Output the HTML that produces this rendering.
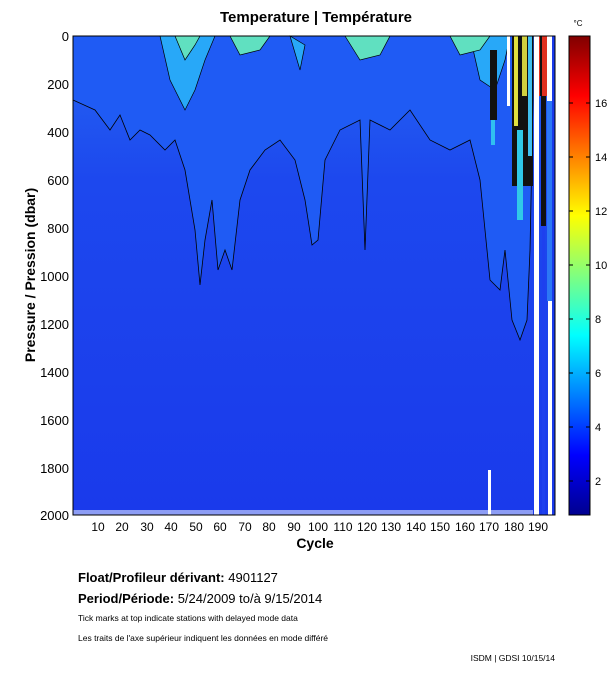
<!DOCTYPE html><html><head><meta charset="utf-8"><style>body{margin:0;background:#fff}svg{display:block}text{font-family:"Liberation Sans",sans-serif}</style></head><body>
<svg width="611" height="675" viewBox="0 0 611 675">
<defs>
<linearGradient id="jet" x1="0" y1="1" x2="0" y2="0">
<stop offset="0" stop-color="#00008f"/><stop offset="0.125" stop-color="#0000ff"/><stop offset="0.375" stop-color="#00ffff"/><stop offset="0.625" stop-color="#ffff00"/><stop offset="0.875" stop-color="#ff0000"/><stop offset="1" stop-color="#800000"/></linearGradient>
<linearGradient id="bg" x1="0" y1="0" x2="0" y2="1"><stop offset="0" stop-color="#2566f2"/><stop offset="0.3" stop-color="#1d48ee"/><stop offset="1" stop-color="#1a3aeb"/></linearGradient>
</defs>
<text x="316" y="22" font-size="15" font-weight="bold" text-anchor="middle">Temperature | Température</text>
<text x="578" y="26" font-size="8" text-anchor="middle">°C</text>
<rect x="73" y="36" width="482" height="479" fill="url(#bg)"/>
<path d="M73,36 L73,100 L95,110 L110,130 L120,115 L130,140 L140,130 L150,135 L165,150 L175,140 L185,170 L195,230 L200,285 L205,240 L212,200 L218,270 L225,250 L232,270 L240,200 L250,170 L265,150 L280,140 L295,160 L305,200 L312,245 L318,240 L325,160 L340,130 L360,120 L365,250 L370,120 L390,130 L410,110 L430,140 L450,150 L470,140 L480,180 L490,280 L500,290 L505,250 L512,320 L520,340 L527,320 L530,250 L533,100 L533,36 Z" fill="#1f5bf4" stroke="#000" stroke-width="0.8"/>
<path d="M160,36 L170,80 L185,110 L195,90 L205,60 L215,36 Z M290,36 L300,70 L305,45 Z M470,36 L480,80 L495,90 L505,60 L510,36 Z" fill="#28a8f8" stroke="#000" stroke-width="0.7"/>
<path d="M175,36 L185,60 L195,45 L200,36 Z M230,36 L240,55 L260,50 L270,36 Z M345,36 L360,60 L380,55 L390,36 Z M450,36 L460,55 L480,50 L490,36Z" fill="#60e0c0" stroke="#000" stroke-width="0.7"/>
<rect x="490" y="50" width="7" height="70" fill="#111"/>
<rect x="491" y="120" width="4" height="25" fill="#30c0f0"/>
<rect x="507" y="36" width="3" height="70" fill="#fff"/>
<rect x="512" y="36" width="21" height="150" fill="#111"/>
<rect x="514" y="36" width="4" height="90" fill="#e0e040"/>
<rect x="522" y="36" width="5" height="60" fill="#d0d040"/>
<rect x="517" y="130" width="6" height="90" fill="#30c8e8"/>
<rect x="528" y="36" width="4" height="120" fill="#40c0f0"/>
<rect x="534" y="36" width="5" height="479" fill="#fff"/>
<rect x="539" y="36" width="8" height="60" fill="#e03020"/>
<rect x="540" y="36" width="2" height="60" fill="#111"/>
<rect x="541" y="96" width="5" height="130" fill="#111"/>
<rect x="542" y="226" width="3" height="289" fill="#1e40ee"/>
<rect x="547" y="36" width="5" height="65" fill="#fff"/>
<rect x="547" y="101" width="5" height="200" fill="#2c78f5"/>
<rect x="548" y="301" width="4" height="214" fill="#fff"/>
<rect x="552" y="36" width="3" height="479" fill="#1a3aeb"/>
<rect x="488" y="470" width="3" height="45" fill="#fff"/>
<rect x="73" y="510" width="460" height="5" fill="#fff" opacity="0.5"/>
<rect x="73" y="36" width="482" height="479" fill="none" stroke="#000" stroke-width="1"/>
<rect x="569" y="36" width="21" height="479" fill="url(#jet)" stroke="#000" stroke-width="1"/>
<g font-size="11" fill="#000">
<text x="595" y="485">2</text><text x="595" y="431">4</text><text x="595" y="377">6</text><text x="595" y="323">8</text><text x="595" y="269">10</text><text x="595" y="215">12</text><text x="595" y="161">14</text><text x="595" y="107">16</text>
</g>
<g stroke="#000"><path d="M569,481h4M586,481h4M569,427h4M586,427h4M569,373h4M586,373h4M569,319h4M586,319h4M569,265h4M586,265h4M569,211h4M586,211h4M569,157h4M586,157h4M569,103h4M586,103h4"/></g>
<g font-size="13" text-anchor="end">
<text x="69" y="41">0</text><text x="69" y="89">200</text><text x="69" y="137">400</text><text x="69" y="185">600</text><text x="69" y="233">800</text><text x="69" y="281">1000</text><text x="69" y="329">1200</text><text x="69" y="377">1400</text><text x="69" y="425">1600</text><text x="69" y="473">1800</text><text x="69" y="520">2000</text>
</g>
<g font-size="12" text-anchor="middle">
<text x="98" y="531">10</text><text x="122" y="531">20</text><text x="147" y="531">30</text><text x="171" y="531">40</text><text x="196" y="531">50</text><text x="220" y="531">60</text><text x="245" y="531">70</text><text x="269" y="531">80</text><text x="294" y="531">90</text><text x="318" y="531">100</text><text x="343" y="531">110</text><text x="367" y="531">120</text><text x="391" y="531">130</text><text x="416" y="531">140</text><text x="440" y="531">150</text><text x="465" y="531">160</text><text x="489" y="531">170</text><text x="514" y="531">180</text><text x="538" y="531">190</text>
</g>
<text x="315" y="548" font-size="14" font-weight="bold" text-anchor="middle">Cycle</text>
<text transform="translate(35,275) rotate(-90)" font-size="14" font-weight="bold" text-anchor="middle">Pressure / Pression (dbar)</text>
<text x="78" y="582" font-size="13"><tspan font-weight="bold">Float/Profileur dérivant:</tspan> 4901127</text>
<text x="78" y="603" font-size="13"><tspan font-weight="bold">Period/Période:</tspan> 5/24/2009  to/à  9/15/2014</text>
<text x="78" y="621" font-size="8.5">Tick marks at top indicate stations with delayed mode data</text>
<text x="78" y="641" font-size="8.5">Les traits de l'axe supérieur indiquent les données en mode différé</text>
<text x="555" y="661" font-size="8.5" text-anchor="end">ISDM | GDSI  10/15/14</text>
</svg>
</body></html>
